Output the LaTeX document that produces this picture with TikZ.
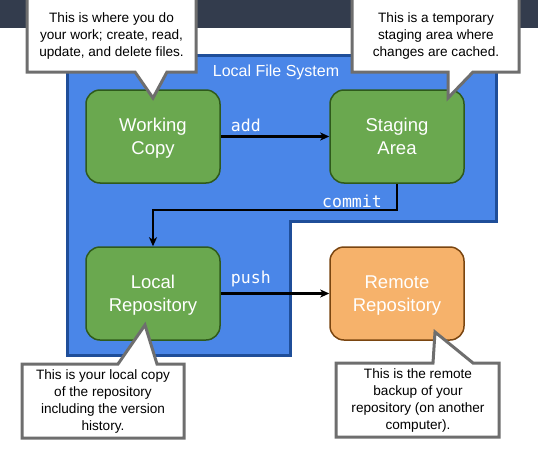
\documentclass[tikz,border=0pt]{standalone}
\usepackage{fontspec}
\setmainfont{Liberation Sans}
\newfontfamily\codefont{DejaVu Sans Mono}
\usepackage{tikz}
\usetikzlibrary{arrows.meta}
\usetikzlibrary{positioning}

\definecolor{topbar}{HTML}{333C4D}
\definecolor{lfsfill}{HTML}{4A86E8}
\definecolor{lfsline}{HTML}{1F4E99}
\definecolor{gitgreen}{HTML}{6AA84F}
\definecolor{gitgreenline}{HTML}{2F5A1B}
\definecolor{remotefill}{HTML}{F6B26B}
\definecolor{remoteline}{HTML}{7A4510}
\definecolor{noteline}{HTML}{6E6E6E}

\begin{document}
\begin{tikzpicture}[x=1pt,y=-1pt]
\tikzstyle{box}=[rectangle, rounded corners=14pt, minimum width=134pt, minimum height=93pt, line width=1.5pt, text=white, align=center, font=\fontsize{18.5}{23}\selectfont, text depth=-2pt]
\tikzstyle{local}=[box, fill=gitgreen, draw=gitgreenline]
\tikzstyle{remote}=[box, fill=remotefill, draw=remoteline]
\tikzstyle{flow}=[line width=2.5pt, -{Stealth[length=9pt,width=8pt,inset=2.5pt]}]
\tikzstyle{cmd}=[inner sep=1pt, text=white, font=\codefont\fontsize{16.5}{18}\selectfont]
\tikzstyle{note}=[fill=white, draw=noteline, line width=3pt, miter limit=10]
\tikzstyle{notetext}=[align=center, inner sep=0pt, font=\fontsize{13.6}{17}\selectfont]
\useasboundingbox (0,0) rectangle (538,450);
\fill[topbar] (0,0) rectangle (538,28);
% local file system
\draw[fill=lfsfill, draw=lfsline, line width=3pt] (67,55) -- (496,55) -- (496,221) -- (290,221) -- (290,355) -- (67,355) -- cycle;
\node[text=white, font=\fontsize{16}{18}\selectfont] (lfs) at (276,72) {Local File System};
\node[local] (wc) at (153,136.5) {Working\\Copy};
\node[local] (sa) at (397,136.5) {Staging\\Area};
\node[local] (lr) at (153,293.5) {Local\\Repository};
\node[remote] (rr) at (397,293.5) {Remote\\Repository};
\draw[flow] (wc.east) -- (sa.west);
\node[cmd, above right=4pt and 9pt of wc.east] (addlbl) {add};
\draw[flow] (sa.south) -- ++(0,26) -| (lr.north);
\node[cmd, anchor=south east] (commitlbl) at ([xshift=-14pt,yshift=-25pt]sa.south) {commit};
\draw[flow] (lr.east) -- (rr.west);
\node[cmd, above right=5pt and 9pt of lr.east] (pushlbl) {push};
% notes
\draw[note] (27,-3) -- (196,-3) -- (196,72) -- (167,72) -- (153,98) -- (135,72) -- (27,72) -- cycle;
\node[notetext] (wcnote) at (111.5,36) {This is where you do\\your work; create, read,\\update, and delete files.};
\draw[note] (352,-3) -- (519,-3) -- (519,72) -- (473,72) -- (448,98) -- (448,72) -- (352,72) -- cycle;
\node[notetext] (sanote) at (436,36) {This is a temporary\\staging area where\\changes are cached.};
\draw[note] (22,364) -- (118,364) -- (145,325) -- (157,364) -- (184,364) -- (184,438) -- (22,438) -- cycle;
\node[notetext] (lrnote) at (103,401.5) {This is your local copy\\of the repository\\including the version\\history.};
\draw[note] (336,363) -- (433,363) -- (435,332) -- (473,363) -- (499,363) -- (499,437) -- (336,437) -- cycle;
\node[notetext] (rrnote) at (418,400.5) {This is the remote\\backup of your\\repository (on another\\computer).};
\end{tikzpicture}
\end{document}
